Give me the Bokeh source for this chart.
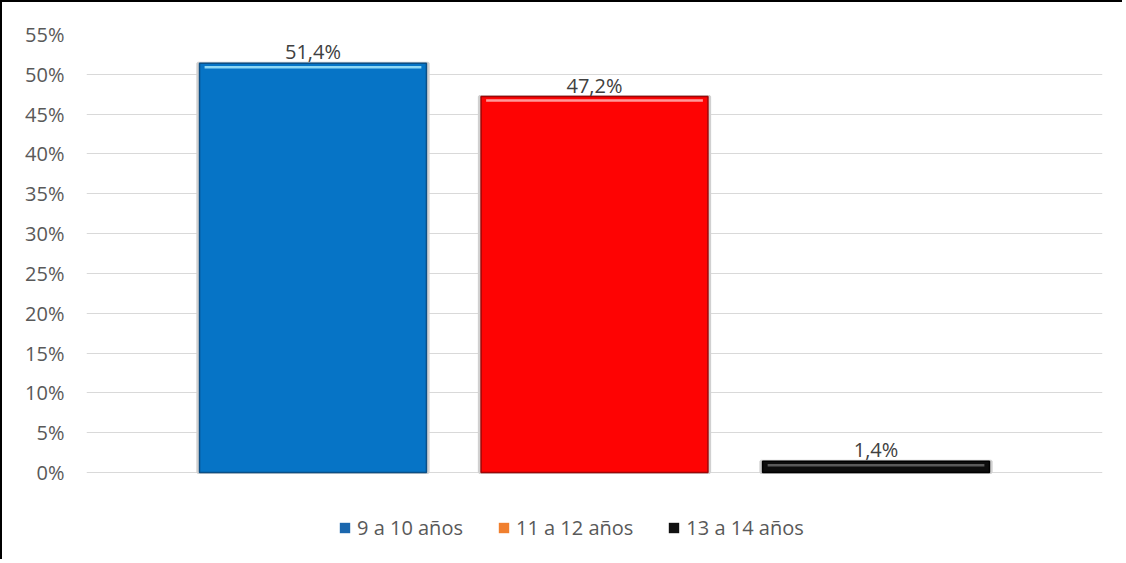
from bokeh.plotting import figure
from bokeh.models import (ColumnDataSource, FactorRange, Range1d, FixedTicker,
                          PrintfTickFormatter, Legend, LegendItem, LabelSet)
from bokeh.core.properties import value
from bokeh.embed import file_html
from bokeh.resources import INLINE

series = ["9 a 10 años", "11 a 12 años", "13 a 14 años"]
values = [51.4, 47.2, 1.4]
bar_colors = ["#0674C6", "#FE0303", "#0D0D0D"]
edge_colors = ["#0B4F86", "#9E0505", "#000000"]
highlight_colors = ["#8ED8F5", "#FF9A9A", "#5A5A5A"]
legend_colors = ["#1B67AE", "#F07F2E", "#111111"]
y_ticks = [0, 5, 10, 15, 20, 25, 30, 35, 40, 45, 50, 55]
labels = [("%.1f%%" % v).replace(".", ",") for v in values]

FONT = "Open Sans"
PX_PER_UNIT = 438 / 55.0
hl_y = [max(v - 4 / PX_PER_UNIT, v / 2) for v in values]

src = ColumnDataSource(dict(x=series, top=values, color=bar_colors,
                            edge=edge_colors, hl=highlight_colors, hl_y=hl_y,
                            label=labels))

p = figure(width=1122, height=559, output_backend="svg", toolbar_location=None,
           x_range=FactorRange(factors=series, range_padding=0.203),
           y_range=Range1d(-11.18, 55))
p.styles = {"border-left": "2px solid black", "border-top": "2px solid black"}
p.min_border_left = 84
p.min_border_right = 22
p.min_border_top = 32
p.min_border_bottom = 0
p.outline_line_color = None
p.background_fill_color = "white"
p.border_fill_color = "white"

# soft shadow
p.vbar(x="x", top="top", width=0.818, source=src, fill_color=None,
       line_color="#D0D0D0", line_width=3)
p.vbar(x="x", top="top", width=0.806, source=src, fill_color="color",
       line_color="edge", line_width=1.5)
# bevel highlight near the top
p.vbar(x="x", top="hl_y", bottom="hl_y", width=0.77, source=src,
       fill_color=None, line_color="hl", line_width=2.5)

p.add_layout(LabelSet(x="x", y="top", text="label", source=src,
                      text_align="center", text_baseline="bottom", y_offset=-2,
                      text_font=value(FONT), text_font_size=value("20px"),
                      text_color="#404040"))

p.xaxis.visible = False
p.yaxis.ticker = FixedTicker(ticks=y_ticks)
p.yaxis.formatter = PrintfTickFormatter(format="%d%%")
p.yaxis.axis_line_color = None
p.yaxis.major_tick_line_color = None
p.yaxis.minor_tick_line_color = None
p.yaxis.major_label_text_font = FONT
p.yaxis.major_label_text_font_size = "20px"
p.yaxis.major_label_text_color = "#595959"
p.yaxis.major_label_standoff = 16
p.xgrid.visible = False
p.ygrid.ticker = FixedTicker(ticks=y_ticks)
p.ygrid.grid_line_color = "#D9D9D9"
p.ygrid.grid_line_width = 1

items = []
for name, v, c in zip(series, values, legend_colors):
    r = p.vbar(x=[name], top=[v], width=0, fill_color=c, line_color=None)
    items.append(LegendItem(label=name, renderers=[r]))

legend = Legend(items=items, orientation="horizontal", location=(252, 20),
                label_text_font=FONT, label_text_font_size="20px",
                label_text_color="#595959", border_line_color=None,
                background_fill_alpha=0,
                glyph_width=13, glyph_height=13, spacing=34,
                label_standoff=6, margin=0, padding=0)
p.add_layout(legend)

open("out.html", "w").write(file_html(p, INLINE))
